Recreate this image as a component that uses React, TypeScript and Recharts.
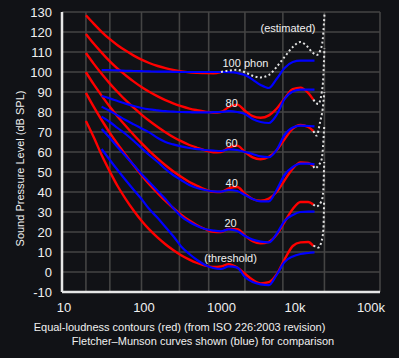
import { LineChart, Line, XAxis, YAxis, CartesianGrid } from 'recharts'

// ISO 226:2003 contours (red)
const ISO_FREQ = [20, 25, 31.5, 40, 50, 63, 80, 100, 125, 160, 200, 250, 315, 400, 500, 630, 800, 1000, 1250, 1600, 2000, 2500, 3150, 4000, 5000, 6300, 8000, 10000, 12500, 14500]
const RED_THRESHOLD = [75.5, 67.5, 58.5, 50.2, 43, 36.6, 30.6, 25.6, 21.3, 17.2, 13.9, 11, 8.4, 6.2, 4.5, 3.2, 2.5, 2.8, 3.9, 2.2, -0.9, -3.9, -5.7, -5.1, -1.2, 6.3, 13, 14.8, 15, 13]
const RED_20 = [89.6, 82.7, 76, 69.6, 64, 58.6, 53.2, 48.4, 43.9, 39.4, 35.5, 32, 28.7, 25.7, 23.4, 21.5, 20.1, 20, 21.5, 21.4, 18.2, 15.4, 14.3, 15.1, 18.6, 25, 31.5, 35, 35, 33.8]
const RED_40 = [99.9, 93.9, 88.2, 82.6, 77.8, 73.1, 68.5, 64.4, 60.6, 56.7, 53.4, 50.4, 47.6, 45, 43.1, 41.3, 40.1, 40, 41.8, 42.5, 39.2, 36.5, 35.6, 36.7, 40, 45.8, 51.8, 54.8, 54.5, 53]
const RED_60 = [109.5, 104.2, 99.1, 94.2, 90, 85.9, 82.1, 78.7, 75.6, 72.5, 69.9, 67.5, 65.4, 63.5, 62.1, 60.8, 59.9, 60, 62.2, 63.2, 60, 57.3, 56.4, 57.6, 60.9, 66.4, 71.7, 73.5, 72.5, 70.5]
const RED_80 = [119, 114.2, 109.7, 105.3, 101.7, 98.4, 95.2, 92.5, 90.1, 87.8, 85.9, 84.3, 82.9, 81.7, 80.9, 80.2, 79.7, 80, 82.5, 83.7, 80.6, 77.9, 77.1, 78.3, 81.6, 86.8, 91.4, 92.2, 89.5, 86.2]
const RED_100_FREQ = [20, 25, 31.5, 40, 50, 63, 80, 100, 125, 160, 200, 250, 315, 400, 500, 630, 800, 1000]
const RED_100 = [128.4, 124.2, 120.1, 116.4, 113.4, 110.7, 108.2, 106.2, 104.5, 103, 101.9, 101, 100.3, 99.8, 99.6, 99.5, 99.4, 100]

// Fletcher-Munson curves (blue)
const FM_FREQ = [31.5, 40, 50, 63, 80, 100, 125, 160, 200, 250, 315, 400, 500, 630, 800, 1000, 1250, 1600, 2000, 2500, 3150, 4000, 5000, 6300, 8000, 10000, 12500, 15000]
const BLUE_0 = [61.5, 56, 51, 46, 41, 36.5, 31.5, 27, 22.5, 18, 12.8, 9, 6, 3.5, 2, 1.5, 2.8, 2.2, -2.5, -5, -6.2, -6.6, -1.5, 5, 7.8, 9, 9.5, 9.8]
const BLUE_20 = [71.5, 67, 62.5, 58, 53.5, 49, 45, 40.5, 36.5, 32, 27.8, 25, 23, 21.5, 20.7, 20.3, 21.3, 20.5, 18, 16.2, 15.2, 14.8, 19, 25.5, 28.5, 30, 30.2, 30.2]
const BLUE_40 = [77.7, 75, 72, 69, 65.5, 62, 58.5, 55, 51.5, 48.5, 46, 43.5, 42, 41, 40.3, 40.2, 41, 40.5, 38.5, 36.5, 35.3, 35.3, 41, 48.5, 52.5, 54.2, 54.2, 53.8]
const BLUE_60 = [82.7, 80.5, 78.3, 76, 73.8, 71.8, 69.8, 67, 65, 63.8, 62.8, 62, 61.4, 61, 60.7, 60.5, 61.3, 61, 60, 59, 57.8, 57.4, 61, 68.5, 72.3, 73.2, 73, 72.8]
const BLUE_80 = [88, 86.8, 85.5, 84.2, 83, 82, 81.3, 80.8, 80.4, 80.2, 80, 79.9, 79.8, 79.8, 79.9, 80, 80.4, 80, 79, 76.5, 75, 74.5, 78.5, 86.5, 90.3, 91.2, 91.2, 91.2]
const BLUE_100 = [101, 100.9, 100.8, 100.6, 100.5, 100.4, 100.3, 100.2, 100.2, 100.1, 100, 100, 100, 100, 100, 100, 99.9, 99.5, 98.5, 96.2, 93.5, 92, 96.5, 102, 105, 105.7, 105.7, 105.7]

// dotted "estimated" extensions, each one climbing the 20 kHz wall to the next
const EST_100_FREQ = [1000, 1250, 1600, 2000, 2500, 3150, 4000, 5000, 6300, 8000, 10000, 12000, 14000, 16000, 17800, 19000, 19700, 20100]
const EST_100 = [100, 100.7, 101.1, 99.9, 98.1, 97.3, 98.5, 102.5, 107.5, 112.5, 115, 113, 110, 108.5, 111, 116, 124, 130]
const EST_80_FREQ = [14500, 16700, 18500, 19400, 20000]
const EST_80 = [86.2, 84, 89.8, 98.2, 112]
const EST_60_FREQ = [14500, 16000, 17600, 19000, 19950]
const EST_60 = [70.5, 68.2, 74.8, 81.5, 90]
const EST_40_FREQ = [14500, 15200, 16700, 18500, 19900]
const EST_40 = [53, 51.8, 53.2, 56.5, 73]
const EST_20_FREQ = [14500, 15900, 18500, 19400, 19850]
const EST_20 = [33.8, 32.8, 35.7, 41.5, 55]
const EST_0_FREQ = [14500, 15900, 16700, 18500, 19400, 19800]
const EST_0 = [13, 12.8, 12.2, 15.7, 21.5, 35]

const X_TICKS = [10, 100, 1000, 10000, 100000]
const X_TICK_LABELS = ['10', '100', '1000', '10k', '100k']
const X_TICK_DX = [2, 2.5, 0.5, -5.5, -4]
const Y_TICKS = [-10, 0, 10, 20, 30, 40, 50, 60, 70, 80, 90, 100, 110, 120, 130]

const GRID_FREQS: number[] = []
for (let d = 10; d < 100000; d *= 10) for (let m = 1; m < 10; m++) GRID_FREQS.push(d * m)
GRID_FREQS.push(100000)

const pts = (fs: number[], vs: number[]) => fs.map((f, i) => ({ f, v: vs[i] }))

const RED = '#ff0000'
const BLUE = '#0000ff'
const DOT = '#e2e2e2'
const TEXT = '#f0f0f0'
const BG = '#111216'

const redSeries = [
  pts(ISO_FREQ, RED_THRESHOLD), pts(ISO_FREQ, RED_20), pts(ISO_FREQ, RED_40),
  pts(ISO_FREQ, RED_60), pts(ISO_FREQ, RED_80), pts(RED_100_FREQ, RED_100),
]
const blueSeries = [BLUE_0, BLUE_20, BLUE_40, BLUE_60, BLUE_80, BLUE_100].map((v) => pts(FM_FREQ, v))
const dotSeries = [
  pts(EST_100_FREQ, EST_100), pts(EST_80_FREQ, EST_80), pts(EST_60_FREQ, EST_60),
  pts(EST_40_FREQ, EST_40), pts(EST_20_FREQ, EST_20), pts(EST_0_FREQ, EST_0),
]

const XTick = ({ x, y, payload }: any) => {
  const i = X_TICKS.indexOf(payload.value)
  return (
    <text x={x + (X_TICK_DX[i] || 0)} y={y} dy="0.71em" textAnchor="middle" fill={TEXT} fontSize={13}>
      {X_TICK_LABELS[i]}
    </text>
  )
}

export default function App() {
  return (
    <div style={{
      position: 'absolute', left: 0, top: 0, width: 399, height: 358,
      background: BG, fontFamily: '"Liberation Sans", Arial, sans-serif',
    }}>
      <LineChart width={399} height={358} margin={{ top: 12, right: 19, bottom: 36, left: 12 }}>
        <CartesianGrid stroke="#444" strokeWidth={1.6} verticalValues={GRID_FREQS} horizontalValues={Y_TICKS} />
        <XAxis
          type="number" dataKey="f" scale="log" domain={[10, 100000]} ticks={X_TICKS}
          allowDataOverflow tickLine={false} tickMargin={5} height={30}
          axisLine={{ stroke: '#e6e6e6', strokeWidth: 2.5 }} tick={<XTick />}
        />
        <YAxis
          type="number" domain={[-10, 130]} ticks={Y_TICKS} allowDataOverflow width={50}
          tickLine={false} tickMargin={4} interval={0}
          axisLine={{ stroke: '#e6e6e6', strokeWidth: 2.5 }}
          tick={{ fill: TEXT, fontSize: 13 }}
        />
        {redSeries.map((d, i) => (
          <Line key={'r' + i} data={d} dataKey="v" type="monotone" stroke={RED} strokeWidth={2.4}
            dot={false} isAnimationActive={false} />
        ))}
        {blueSeries.map((d, i) => (
          <Line key={'b' + i} data={d} dataKey="v" type="monotone" stroke={BLUE} strokeWidth={2.2}
            dot={false} isAnimationActive={false} />
        ))}
        {dotSeries.map((d, i) => (
          <Line key={'d' + i} data={d} dataKey="v" type="monotone" stroke={DOT} strokeWidth={2}
            strokeDasharray="2 2.5" dot={false} isAnimationActive={false} />
        ))}
      </LineChart>
      <svg width={399} height={358} style={{ position: 'absolute', left: 0, top: 0, pointerEvents: 'none' }}>
        <g fill={TEXT} fontSize={11}>
          <text x={260.5} y={31.5}>(estimated)</text>
          <text x={222.5} y={67}>100 phon</text>
          <text x={231.7} y={107.3} textAnchor="middle">80</text>
          <text x={231.5} y={147} textAnchor="middle">60</text>
          <text x={231.7} y={186.5} textAnchor="middle">40</text>
          <text x={230.5} y={227} textAnchor="middle">20</text>
          <text x={204.3} y={261.5}>(threshold)</text>
          <text x={23.5} y={168.5} textAnchor="middle" transform="rotate(-90 23.5 168.5)">
            Sound Pressure Level (dB SPL)
          </text>
          <text x={179.5} y={330.7} textAnchor="middle">Equal-loudness contours (red) (from ISO 226:2003 revision)</text>
          <text x={203} y={344.7} textAnchor="middle">Fletcher–Munson curves shown (blue) for comparison</text>
        </g>
      </svg>
    </div>
  )
}
